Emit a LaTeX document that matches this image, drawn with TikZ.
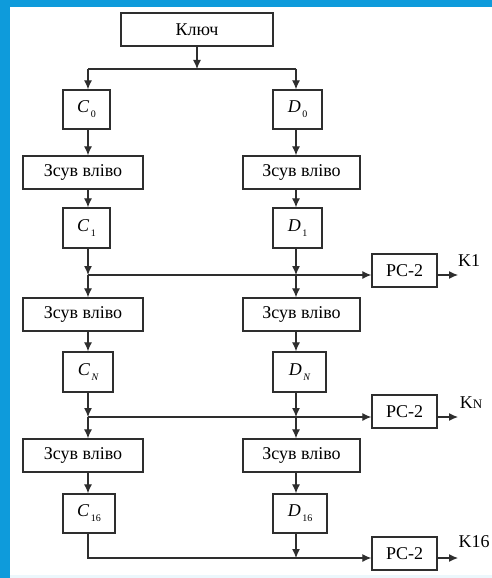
\documentclass[tikz,border=0pt]{standalone}
\usepackage{fontspec}
\setmainfont{Liberation Serif}
\usetikzlibrary{arrows.meta}
\definecolor{frameblue}{HTML}{0E9BDB}
\definecolor{ink}{HTML}{2E2E2E}
% register name with a small lowered index, e.g. C_0
\newcommand\regname[2]{\textit{#1}\kern1.5pt\raisebox{-0.6ex}{\fontsize{10}{10}\selectfont #2}}
\begin{document}
\begin{tikzpicture}[x=1pt,y=-1pt,
  box/.style={draw=ink,line width=1.3pt,inner sep=0pt,minimum height=33pt,
              font=\fontsize{18}{21}\selectfont,text=black},
  regbox/.style={box,minimum height=39pt},
  shiftbox/.style={box,minimum height=33pt},
  conn/.style={draw=ink,line width=1.2pt},
  arr/.style={conn,-{Latex[length=9pt,width=8pt]}},
  lbl/.style={font=\fontsize{18}{21}\selectfont,inner sep=0pt,text=black}]
\useasboundingbox (0,0) rectangle (492,578);
% frame
\fill[white] (0,0) rectangle (492,578);
\fill[frameblue!8] (10,575) rectangle (492,578);
\fill[frameblue] (0,0) rectangle (492,7);
\fill[frameblue] (0,0) rectangle (10,578);

% column axes
\coordinate (xL) at (88,0);
\coordinate (xR) at (296,0);

% key and split
\node[box,minimum width=152pt] (key) at (197,29.5) {Ключ};
\coordinate (j0) at (197,69);
\coordinate (j0L) at (88,69);
\coordinate (j0R) at (296,69);

% registers and shift stages
\node[regbox,minimum width=47pt] (c0) at (86.5,109.5) {\regname{C}{0}};
\node[regbox,minimum width=49pt] (d0) at (297.5,109.5) {\regname{D}{0}};
\node[shiftbox,minimum width=120pt] (sL1) at (83,172.5) {Зсув вліво};
\node[shiftbox,minimum width=117pt] (sR1) at (301.5,172.5) {Зсув вліво};
\node[regbox,minimum width=47pt,minimum height=40pt] (c1) at (86.5,228) {\regname{C}{1}};
\node[regbox,minimum width=49pt,minimum height=40pt] (d1) at (297.5,228) {\regname{D}{1}};
\coordinate (jL1) at (88,275);
\coordinate (jR1) at (296,275);
\node[shiftbox,minimum width=120pt] (sL2) at (83,314.5) {Зсув вліво};
\node[shiftbox,minimum width=117pt] (sR2) at (301.5,314.5) {Зсув вліво};
\node[regbox,minimum width=50pt,minimum height=40pt] (cN) at (88,372) {\regname{C}{\itshape N}};
\node[regbox,minimum width=53pt,minimum height=40pt] (dN) at (299.5,372) {\regname{D}{\itshape N}};
\coordinate (jL2) at (88,417);
\coordinate (jR2) at (296,417);
\node[shiftbox,minimum width=120pt] (sL3) at (83,455.5) {Зсув вліво};
\node[shiftbox,minimum width=117pt] (sR3) at (301.5,455.5) {Зсув вліво};
\node[regbox,minimum width=52pt] (c16) at (89,513.5) {\regname{C}{16}};
\node[regbox,minimum width=54pt] (d16) at (300,513.5) {\regname{D}{16}};
\coordinate (jL3) at (88,558);
\coordinate (jR3) at (296,558);

% PC-2 blocks and outputs
\node[box,minimum width=65pt] (pc1) at (404.5,270.5) {PC-2};
\node[box,minimum width=65pt] (pcN) at (404.5,411.5) {PC-2};
\node[box,minimum width=65pt] (pc16) at (404.5,553.5) {PC-2};
\coordinate (o1) at (458,275);
\coordinate (oN) at (458,417);
\coordinate (o16) at (458,558);
\node[lbl] (k1) at (469,261) {K1};
\node[lbl] (kN) at (471,403) {K{\fontsize{13}{13}\selectfont N}};
\node[lbl] (k16) at (474,542) {K16};

% key split
\draw[arr] (key.south) -- (j0);
\draw[conn] (j0L) -- (j0R);
\draw[arr] (j0L) -- (c0.north -| xL);
\draw[arr] (j0R) -- (d0.north -| xR);

% left column
\draw[arr] (c0.south -| xL) -- (sL1.north -| xL);
\draw[arr] (sL1.south -| xL) -- (c1.north -| xL);
\draw[arr] (c1.south -| xL) -- (jL1);
\draw[arr] (jL1) -- (sL2.north -| xL);
\draw[arr] (sL2.south -| xL) -- (cN.north -| xL);
\draw[arr] (cN.south -| xL) -- (jL2);
\draw[arr] (jL2) -- (sL3.north -| xL);
\draw[arr] (sL3.south -| xL) -- (c16.north -| xL);

% right column
\draw[arr] (d0.south -| xR) -- (sR1.north -| xR);
\draw[arr] (sR1.south -| xR) -- (d1.north -| xR);
\draw[arr] (d1.south -| xR) -- (jR1);
\draw[arr] (jR1) -- (sR2.north -| xR);
\draw[arr] (sR2.south -| xR) -- (dN.north -| xR);
\draw[arr] (dN.south -| xR) -- (jR2);
\draw[arr] (jR2) -- (sR3.north -| xR);
\draw[arr] (sR3.south -| xR) -- (d16.north -| xR);
\draw[arr] (d16.south -| xR) -- (jR3);

% feeds into PC-2
\draw[arr] (jL1) -- (pc1.west |- jL1);
\draw[arr] (jL2) -- (pcN.west |- jL2);
\draw[arr] (c16.south -| xL) |- (pc16.west |- jL3);

% subkey outputs
\draw[arr] (pc1.east |- jL1) -- (o1);
\draw[arr] (pcN.east |- jL2) -- (oN);
\draw[arr] (pc16.east |- jL3) -- (o16);
\end{tikzpicture}
\end{document}
